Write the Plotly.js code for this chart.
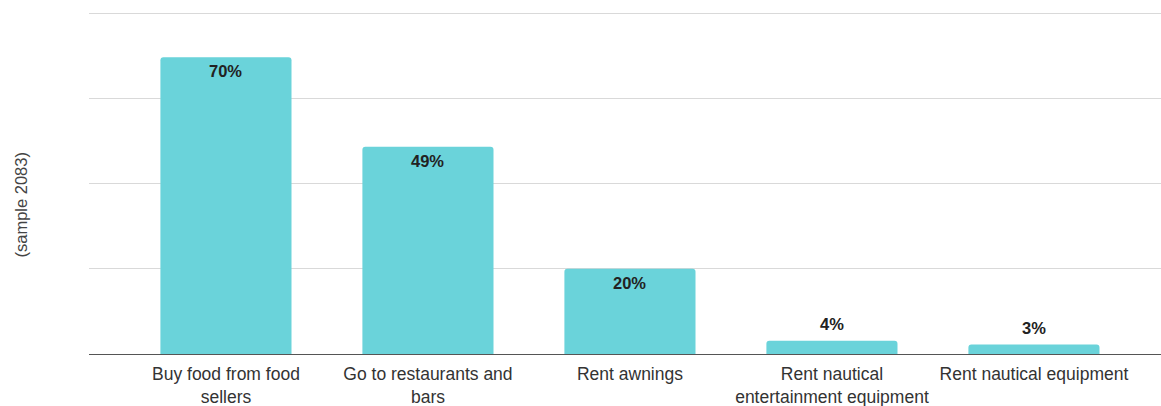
<!DOCTYPE html>
<html>
<head>
<meta charset="utf-8">
<script src="https://cdn.plot.ly/plotly-3.0.1.min.js"></script>
<style>html,body{margin:0;padding:0;background:#fff;}#chart{width:1161px;height:406px;}</style>
</head>
<body>
<div id="chart"></div>
<script>
const categories = ["Buy food from food sellers", "Go to restaurants and bars", "Rent awnings", "Rent nautical entertainment equipment", "Rent nautical equipment"];
const tickLabels = ["Buy food from food<br>sellers", "Go to restaurants and<br>bars", "Rent awnings", "Rent nautical<br>entertainment equipment", "Rent nautical equipment"];
const values = [69.6, 48.6, 20.0, 3.1, 2.2];
const valueLabels = ["70%", "49%", "20%", "4%", "3%"];
const gridValues = [0, 20, 40, 60, 80];
const yTitle = "(sample 2083)";

const font = "Liberation Sans, Arial, sans-serif";
const barColor = "#6AD3DA";

const annotations = categories.map((c, i) => {
  const inside = values[i] > 10;
  return {
    x: c, y: values[i], xref: "x", yref: "y",
    text: "<b>" + valueLabels[i] + "</b>",
    showarrow: false, yanchor: "middle", xanchor: "center",
    yshift: inside ? -14 : 17,
    font: {family: font, size: 16.5, color: "#222"}
  };
});
annotations.push({
  xref: "paper", yref: "paper", x: 0, y: 0.5, xshift: -69, yshift: -24,
  text: yTitle, textangle: -90, showarrow: false,
  xanchor: "center", yanchor: "middle",
  font: {family: font, size: 16.5, color: "#444"}
});

Plotly.newPlot("chart", [{
  type: "bar",
  x: categories,
  y: values,
  marker: {color: barColor, cornerradius: 3},
  hoverinfo: "none"
}], {
  width: 1161, height: 406,
  margin: {l: 89, r: 0, t: 9, b: 52},
  paper_bgcolor: "#fff", plot_bgcolor: "#fff",
  bargap: 0.351,
  showlegend: false,
  xaxis: {
    type: "category",
    range: [-0.678, 4.629],
    tickvals: categories, ticktext: tickLabels,
    ticks: "", showline: true, linecolor: "#555", linewidth: 1,
    ticklabelstandoff: 4,
    tickfont: {family: font, size: 17.5, color: "#333"},
    fixedrange: true
  },
  yaxis: {
    range: [0, 80.94], tickvals: gridValues,
    showticklabels: false, showgrid: true, gridcolor: "#d9d9d9", gridwidth: 1,
    zeroline: false, ticks: "", fixedrange: true
  },
  annotations: annotations
}, {displayModeBar: false, staticPlot: true});
</script>
</body>
</html>
